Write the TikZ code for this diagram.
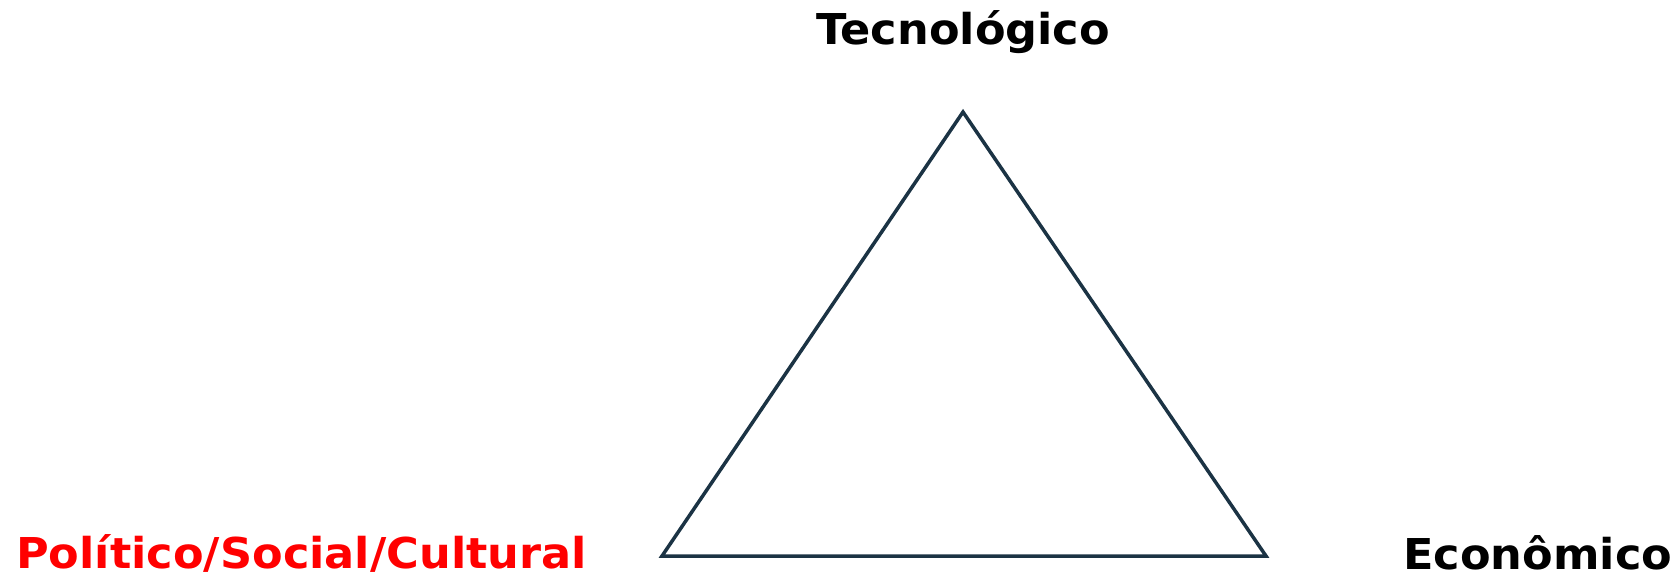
\documentclass[tikz,border=0pt]{standalone}
\usepackage{fontspec}
\setmainfont{DejaVu Sans}[UprightFont=* Bold, FakeStretch=1.05]
\definecolor{tri}{HTML}{1B3344}
\definecolor{redtxt}{HTML}{FF0000}
\begin{document}
\begin{tikzpicture}[x=1pt,y=1pt,
  lbl/.style={inner sep=0pt, font=\fontsize{42.5}{50}\selectfont}]
\useasboundingbox (0,0) rectangle (1675,576);
\coordinate (A) at (963,464);
\coordinate (B) at (662,20);
\coordinate (C) at (1266,20);
\draw[tri, line width=3.5pt, line join=miter] (A) -- (B) -- (C) -- cycle;
\node[lbl, anchor=base] (tec) at (963,531) {Tecnológico};
\node[lbl, anchor=base west, text=redtxt] (pol) at (16,8) {Político/Social/Cultural};
\node[lbl, anchor=base west] (eco) at (1403,7) {Econômico};
\end{tikzpicture}
\end{document}
